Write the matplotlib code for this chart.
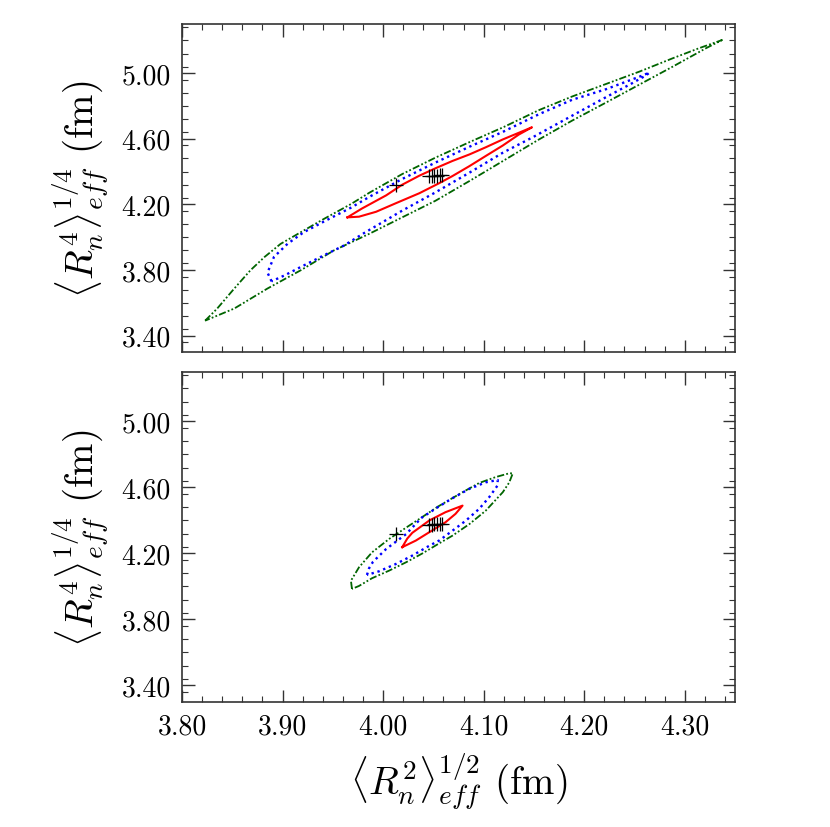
import numpy as np
import matplotlib
matplotlib.use("Agg")
import matplotlib.pyplot as plt
from matplotlib.ticker import MultipleLocator, FormatStrFormatter

plt.rcParams['font.family'] = 'serif'
plt.rcParams['font.serif'] = ['cmr10', 'DejaVu Serif']
plt.rcParams['mathtext.fontset'] = 'cm'
plt.rcParams['axes.unicode_minus'] = False
plt.rcParams['axes.formatter.use_mathtext'] = True

# ---- top panel contours (x = <R2>^1/2, y = <R4>^1/4) ----
# outer (green), upper edge then lower edge, both left -> right
top_green_up_x = [3.823, 3.835, 3.852, 3.868, 3.882, 3.898, 3.918, 3.941, 3.968, 3.986, 4.019,
                  4.052, 4.086, 4.120, 4.155, 4.188, 4.222, 4.255, 4.288, 4.314, 4.337]
top_green_up_y = [3.491, 3.565, 3.687, 3.798, 3.879, 3.959, 4.030, 4.111, 4.202, 4.270, 4.385,
                  4.485, 4.580, 4.672, 4.775, 4.858, 4.935, 5.010, 5.091, 5.152, 5.202]
top_green_lo_x = [3.823, 3.852, 3.885, 3.918, 3.951, 3.986, 4.019, 4.052, 4.086, 4.119, 4.155,
                  4.188, 4.222, 4.255, 4.288, 4.321, 4.337]
top_green_lo_y = [3.491, 3.565, 3.687, 3.798, 3.919, 4.020, 4.121, 4.222, 4.343, 4.464, 4.596,
                  4.711, 4.822, 4.931, 5.040, 5.152, 5.202]

# middle (blue)
top_blue_up_x = [3.889, 3.885, 3.8915, 3.905, 3.921, 3.941, 3.968, 3.986, 4.019, 4.052, 4.086,
                 4.120, 4.155, 4.188, 4.222, 4.255, 4.265]
top_blue_up_y = [3.731, 3.784, 3.880, 3.960, 4.030, 4.095, 4.180, 4.245, 4.355, 4.455, 4.552,
                 4.645, 4.750, 4.838, 4.903, 4.979, 5.004]
top_blue_lo_x = [3.889, 3.902, 3.918, 3.941, 3.961, 3.981, 4.019, 4.052, 4.086, 4.119, 4.149,
                 4.188, 4.222, 4.248, 4.261, 4.265]
top_blue_lo_y = [3.731, 3.767, 3.818, 3.889, 3.949, 4.025, 4.162, 4.273, 4.394, 4.515, 4.610,
                 4.741, 4.855, 4.940, 4.985, 5.004]

# inner (red)
top_red_up_x = [3.9645, 3.979, 4.003, 4.019, 4.036, 4.052, 4.069, 4.086, 4.102, 4.119, 4.148]
top_red_up_y = [4.121, 4.175, 4.255, 4.320, 4.375, 4.420, 4.465, 4.505, 4.548, 4.596, 4.670]
top_red_lo_x = [3.9645, 3.976, 3.993, 4.013, 4.036, 4.056, 4.069, 4.086, 4.102, 4.119, 4.135, 4.148]
top_red_lo_y = [4.121, 4.125, 4.155, 4.208, 4.268, 4.330, 4.373, 4.434, 4.495, 4.559, 4.626, 4.670]

# ---- bottom panel contours ----
bot_green_up_x = [3.969, 3.968, 3.976, 3.989, 4.006, 4.023, 4.040, 4.054, 4.066, 4.079, 4.0955,
                  4.112, 4.125, 4.129]
bot_green_up_y = [3.985, 4.035, 4.116, 4.207, 4.288, 4.357, 4.425, 4.482, 4.525, 4.571, 4.627,
                  4.663, 4.685, 4.686]
bot_green_lo_x = [3.969, 3.976, 3.989, 4.006, 4.023, 4.039, 4.056, 4.069, 4.086, 4.102, 4.119,
                  4.1254, 4.129]
bot_green_lo_y = [3.985, 4.003, 4.050, 4.096, 4.147, 4.200, 4.262, 4.308, 4.379, 4.459, 4.571,
                  4.630, 4.686]

bot_blue_up_x = [3.984, 3.986, 3.990, 4.003, 4.023, 4.038, 4.053, 4.069, 4.0856, 4.102, 4.114]
bot_blue_up_y = [4.070, 4.110, 4.150, 4.227, 4.318, 4.415, 4.475, 4.535, 4.591, 4.631, 4.645]
bot_blue_lo_x = [3.984, 3.996, 4.0126, 4.029, 4.046, 4.0557, 4.069, 4.0823, 4.0955, 4.1055, 4.1137, 4.114]
bot_blue_lo_y = [4.070, 4.092, 4.136, 4.187, 4.247, 4.278, 4.338, 4.399, 4.470, 4.541, 4.611, 4.645]

bot_red_up_x = [4.019, 4.024, 4.029, 4.046, 4.062, 4.079]
bot_red_up_y = [4.238, 4.290, 4.325, 4.400, 4.450, 4.490]
bot_red_lo_x = [4.019, 4.0325, 4.046, 4.062, 4.072, 4.079]
bot_red_lo_y = [4.238, 4.278, 4.329, 4.389, 4.440, 4.490]

# best-fit points (same in both panels)
pts_x = [4.013, 4.046, 4.0485, 4.051, 4.054, 4.0565, 4.059]
pts_y = [4.317, 4.375, 4.375, 4.376, 4.376, 4.377, 4.377]

x_ticks = [3.80, 3.90, 4.00, 4.10, 4.20, 4.30]
y_ticks = [3.40, 3.80, 4.20, 4.60, 5.00]


def loop(ux, uy, lx, ly):
    # close the contour: upper edge forward, lower edge back
    return list(ux) + list(lx[::-1]), list(uy) + list(ly[::-1])


fig = plt.figure(figsize=(8.3, 8.28), dpi=100)
ax1 = fig.add_axes([0.2193, 0.5737, 0.6663, 0.3961])
ax2 = fig.add_axes([0.2193, 0.1510, 0.6663, 0.3986])

panels = [
    (ax1, (top_green_up_x, top_green_up_y, top_green_lo_x, top_green_lo_y),
          (top_blue_up_x, top_blue_up_y, top_blue_lo_x, top_blue_lo_y),
          (top_red_up_x, top_red_up_y, top_red_lo_x, top_red_lo_y)),
    (ax2, (bot_green_up_x, bot_green_up_y, bot_green_lo_x, bot_green_lo_y),
          (bot_blue_up_x, bot_blue_up_y, bot_blue_lo_x, bot_blue_lo_y),
          (bot_red_up_x, bot_red_up_y, bot_red_lo_x, bot_red_lo_y)),
]

for ax, g, b, r in panels:
    gx, gy = loop(*g)
    bx, by = loop(*b)
    rx, ry = loop(*r)
    ax.plot(gx, gy, color='#006400', lw=1.3, ls=(0, (4, 1.2, 1, 1.2, 1, 1.2)))
    ax.plot(bx, by, color='blue', lw=1.7, ls=(0, (1, 1.6)))
    ax.plot(rx, ry, color='red', lw=1.5)
    ax.plot(pts_x, pts_y, ls='none', marker='+', ms=10, mew=0.9, color='black')

    ax.set_xlim(3.80, 4.35)
    ax.set_ylim(3.30, 5.30)
    ax.set_xticks(x_ticks)
    ax.set_yticks(y_ticks)
    ax.xaxis.set_minor_locator(MultipleLocator(0.02))
    ax.yaxis.set_minor_locator(MultipleLocator(0.08))
    ax.xaxis.set_major_formatter(FormatStrFormatter('%.2f'))
    ax.yaxis.set_major_formatter(FormatStrFormatter('%.2f'))
    ax.tick_params(which='both', direction='in', top=True, right=True,
                   labelsize=20, color='#333333')
    ax.tick_params(which='major', length=9, width=1.0, pad=8)
    ax.tick_params(which='minor', length=4.5, width=0.8)
    for s in ax.spines.values():
        s.set_linewidth(1.2)
        s.set_color('#333333')
    ax.set_ylabel(r'$\langle R_n^4\rangle_{eff}^{1/4}$ (fm)', fontsize=28, labelpad=8)

ax1.tick_params(labelbottom=False)
ax2.set_xlabel(r'$\langle R_n^2\rangle_{eff}^{1/2}$ (fm)', fontsize=28, labelpad=8)

fig.savefig('out.png', dpi=100)
